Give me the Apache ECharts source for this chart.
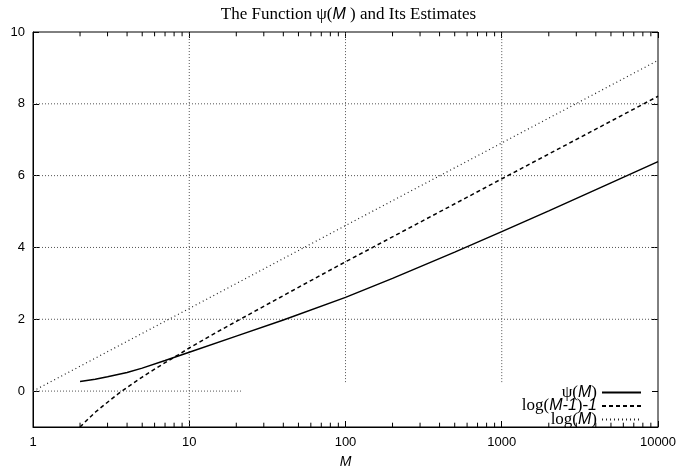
<!DOCTYPE html>
<html>
<head>
<meta charset="utf-8">
<script src="https://cdn.jsdelivr.net/npm/echarts@6/dist/echarts.min.js"></script>
<style>
  html, body { margin: 0; padding: 0; background: #fff; }
  #main { width: 697px; height: 474px; }
</style>
</head>
<body>
<div id="main"></div>
<script>
// values
var psiM = [2, 2.5, 3, 4, 5, 7, 10, 20, 40, 100, 200, 500, 1000, 2000, 5000, 10000];
var psiV = [0.27, 0.33, 0.40, 0.52, 0.64, 0.85, 1.08, 1.53, 1.98, 2.61, 3.14, 3.87, 4.44, 5.02, 5.80, 6.39];

var estM = [2, 2.25, 2.5, 3, 3.5, 4, 5, 6, 7, 8.5, 10, 15, 20, 50, 100, 1000, 10000];
var estV = [-1, -0.78, -0.59, -0.31, -0.08, 0.10, 0.39, 0.61, 0.79, 1.01, 1.20, 1.64, 1.94, 2.89, 3.60, 5.91, 8.21];

var logM = [1, 10, 100, 1000, 10000];
var logV = [0, 2.30, 4.61, 6.91, 9.21];

var seriesNames = ['ψ(M)', 'log(M-1)-1', 'log(M)'];
var legendLabels = [
  '{s|ψ(}{m|M}{s|)}',
  '{s|log(}{m|M-1}{s|)-}{m|1}',
  '{s|log(}{m|M}{s|)}'
];

var yTickVals = [0, 2, 4, 6, 8, 10];
var minorTicks = [];
[1, 10, 100, 1000].forEach(function (d) {
  [2, 3, 4, 5, 6, 7, 8, 9].forEach(function (k) { minorTicks.push(k * d); });
});

// dotted grid segments [x0, y0, x1, y1]
var gridSegs = [
  [1, 2, 10000, 2], [1, 4, 10000, 4], [1, 6, 10000, 6], [1, 8, 10000, 8],
  [1, 0, 22, 0],
  [10, -1, 10, 10], [100, 0.25, 100, 10], [1000, 0.25, 1000, 10]
];

function zip(xs, ys) {
  return xs.map(function (x, i) { return [x, ys[i]]; });
}

// segments: last field 0 = dotted grid, 1 = solid minor tick
var segs = gridSegs.map(function (s) { return s.concat([0]); });
minorTicks.forEach(function (v) {
  segs.push([v, -1, v, -0.88, 1]);
  segs.push([v, 10, v, 9.88, 1]);
});

var serif = 'Liberation Serif';
var sans = 'Liberation Sans';
var richText = {
  s: { fontFamily: serif, fontSize: 17, fontWeight: 'normal', color: '#000' },
  m: { fontFamily: sans, fontStyle: 'italic', fontWeight: 'normal', fontSize: 16, color: '#000' }
};

var myChart = echarts.init(document.getElementById('main'));

var legends = seriesNames.map(function (n, i) {
  return {
    data: [n],
    right: 55,
    top: 384 + i * 13.5,
    padding: 0,
    align: 'right',
    itemWidth: 39,
    itemHeight: 14,
    selectedMode: false,
    itemStyle: { opacity: 0 },
    formatter: function () { return legendLabels[i]; },
    textStyle: { lineHeight: 14, rich: richText }
  };
});

var option = {
  animation: false,
  backgroundColor: '#fff',
  title: {
    text: '{s|The Function ψ(}{m|M}{s| ) and Its Estimates}',
    left: 'center',
    top: 1,
    textStyle: { fontWeight: 'normal', rich: richText }
  },
  legend: legends,
  grid: {
    left: 33, right: 39, top: 32, bottom: 43,
    show: true, borderColor: '#000', borderWidth: 1
  },
  xAxis: [{
    type: 'log', logBase: 10, min: 1, max: 10000,
    name: 'M', nameLocation: 'middle', nameGap: 28,
    nameTextStyle: { fontFamily: sans, fontStyle: 'italic', fontSize: 14, color: '#000' },
    axisLine: { show: true, onZero: false, lineStyle: { color: '#000' } },
    axisTick: { inside: true, length: 6, lineStyle: { color: '#000' } },
    axisLabel: {
      fontFamily: sans, fontSize: 13, color: '#000', margin: 9,
      formatter: function (v) { return String(Math.round(v)); }
    },
    splitLine: { show: false }
  }, {
    type: 'log', logBase: 10, min: 1, max: 10000, position: 'top',
    axisLine: { show: false, onZero: false },
    axisTick: { inside: true, length: 6, lineStyle: { color: '#000' } },
    axisLabel: { show: false },
    splitLine: { show: false }
  }],
  yAxis: [{
    type: 'value', min: -1, max: 10,
    axisLine: { show: true, onZero: false, lineStyle: { color: '#000' } },
    axisTick: { inside: true, length: 6, customValues: yTickVals, lineStyle: { color: '#000' } },
    axisLabel: { fontFamily: sans, fontSize: 13, color: '#000', margin: 8, customValues: yTickVals },
    splitLine: { show: false }
  }, {
    type: 'value', min: -1, max: 10, position: 'right',
    axisLine: { show: false, onZero: false },
    axisTick: { inside: true, length: 6, customValues: yTickVals, lineStyle: { color: '#000' } },
    axisLabel: { show: false, customValues: yTickVals },
    splitLine: { show: false }
  }],
  series: [{
    name: 'grid',
    type: 'custom',
    silent: true,
    z: 1,
    data: segs,
    renderItem: function (params, api) {
      var a = api.coord([api.value(0), api.value(1)]);
      var b = api.coord([api.value(2), api.value(3)]);
      var solid = api.value(4) === 1;
      return {
        type: 'line',
        shape: { x1: a[0], y1: a[1], x2: b[0], y2: b[1] },
        style: solid
          ? { stroke: '#000', lineWidth: 1 }
          : { stroke: '#555', lineWidth: 1, lineDash: [1, 2] }
      };
    }
  }, {
    name: seriesNames[0],
    type: 'line',
    symbol: 'none',
    z: 5,
    data: zip(psiM, psiV),
    lineStyle: { color: '#000', width: 1.5, type: 'solid' },
    itemStyle: { color: '#000' }
  }, {
    name: seriesNames[1],
    type: 'line',
    symbol: 'none',
    z: 5,
    data: zip(estM, estV),
    lineStyle: { color: '#000', width: 1.5, type: [4, 3] },
    itemStyle: { color: '#000' }
  }, {
    name: seriesNames[2],
    type: 'line',
    symbol: 'none',
    z: 5,
    data: zip(logM, logV),
    lineStyle: { color: '#222', width: 1.2, type: [1, 3] },
    itemStyle: { color: '#222' }
  }]
};
myChart.setOption(option);
</script>
</body>
</html>
